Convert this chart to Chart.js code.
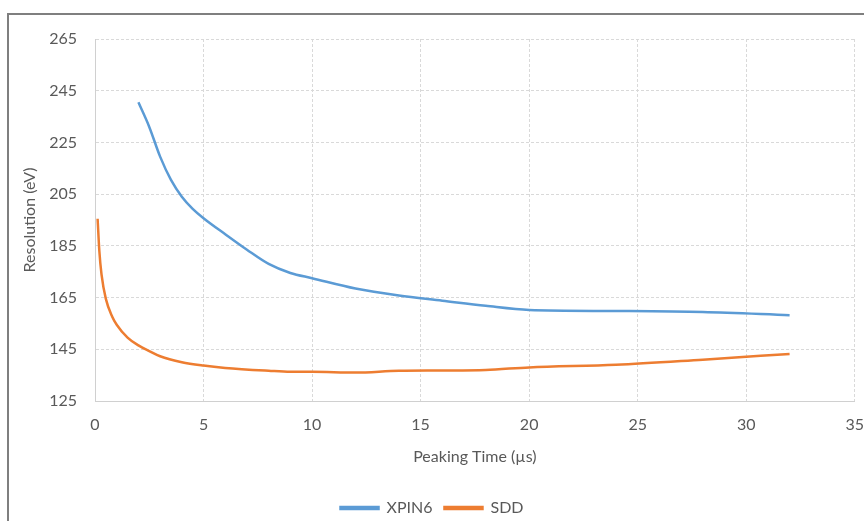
<!DOCTYPE html>
<html>
<head>
<meta charset="utf-8">
<script src="https://cdn.jsdelivr.net/npm/chart.js@4/dist/chart.umd.min.js"></script>
<style>
    html, body { margin: 0; padding: 0; background: #fff; overflow: hidden; }
    #wrap { position: relative; width: 864px; height: 526px; }
</style>
</head>
<body>
<div id="wrap"><canvas id="chart"></canvas></div>
<script>
// Peaking time (µs) and resolution (eV)
const xpinTimes = [2, 2.5, 3, 3.5, 4, 4.5, 5, 6, 7, 8, 9, 10, 12, 14, 16, 18, 20, 24, 28, 32];
const xpinRes   = [240.5, 231, 219.5, 210.5, 204, 199.3, 195.7, 189.5, 183.5, 178, 174.5, 172.5, 168.5, 165.8, 163.8, 161.8, 160.2, 159.8, 159.4, 158.2];

const sddTimes = [0.12, 0.2, 0.3, 0.5, 0.8, 1, 1.5, 2, 2.5, 3, 4, 5, 6, 8, 9, 10, 12, 14, 16, 18, 20, 24, 28, 32];
const sddRes   = [195.5, 183, 174, 164.5, 157.5, 154.5, 149.5, 146.5, 144.3, 142.3, 140, 138.7, 137.8, 136.7, 136.3, 136.3, 136, 136.7, 136.8, 137, 138, 139, 141, 143.2];

const xTicks = [0, 5, 10, 15, 20, 25, 30, 35];
const yTicks = [125, 145, 165, 185, 205, 225, 245, 265];

const textColor = '#595959';
const gridColor = '#d9d9d9';
const fontFamily = 'Lato, "Liberation Sans", sans-serif';

// frame around the whole chart
const framePlugin = {
    id: 'frame',
    beforeDraw(chart) {
        const ctx = chart.ctx;
        ctx.save();
        ctx.fillStyle = '#fff';
        ctx.fillRect(0, 0, chart.width, chart.height);
        ctx.strokeStyle = '#7f7f7f';
        ctx.lineWidth = 2;
        ctx.strokeRect(8, 14, 900, 600);
        ctx.restore();
    }
};

const toPoints = (xs, ys) => xs.map((x, i) => ({ x: x, y: ys[i] }));

new Chart(document.getElementById('chart').getContext('2d'), {
    type: 'line',
    data: {
        datasets: [
            {
                label: 'XPIN6',
                data: toPoints(xpinTimes, xpinRes),
                borderColor: '#5b9bd5',
                backgroundColor: '#5b9bd5',
                borderWidth: 2.5,
                pointRadius: 0,
                cubicInterpolationMode: 'monotone'
            },
            {
                label: 'SDD',
                data: toPoints(sddTimes, sddRes),
                borderColor: '#ed7d31',
                backgroundColor: '#ed7d31',
                borderWidth: 2.5,
                pointRadius: 0,
                cubicInterpolationMode: 'monotone'
            }
        ]
    },
    options: {
        responsive: true,
        maintainAspectRatio: false,
        animation: false,
        layout: { padding: { left: 0, right: 0, top: 39, bottom: 0 } },
        plugins: {
            legend: {
                position: 'bottom',
                labels: {
                    boxWidth: 38,
                    boxHeight: 2,
                    padding: 12,
                    color: textColor,
                    font: { family: fontFamily, size: 16 }
                }
            },
            tooltip: { enabled: false }
        },
        scales: {
            x: {
                type: 'linear',
                min: 0,
                max: 35,
                afterBuildTicks: (scale) => { scale.ticks = xTicks.map(v => ({ value: v })); },
                afterFit: (scale) => { scale.height = 87; },
                // invisible tick marks push the labels down without widening the right margin
                ticks: { color: textColor, padding: 0, font: { family: fontFamily, size: 16 } },
                grid: { color: gridColor, drawTicks: true, tickLength: 14, tickColor: 'rgba(0,0,0,0)' },
                border: { color: '#d0d0d0', width: 1, dash: [3, 2] },
                title: {
                    display: true,
                    text: 'Peaking Time (µs)',
                    color: textColor,
                    padding: { top: 0, bottom: 22 },
                    font: { family: fontFamily, size: 16 }
                }
            },
            y: {
                min: 125,
                max: 265,
                afterBuildTicks: (scale) => { scale.ticks = yTicks.map(v => ({ value: v })); },
                afterFit: (scale) => { scale.width = 95; },
                ticks: { color: textColor, padding: 18, font: { family: fontFamily, size: 16 } },
                grid: { color: gridColor, drawTicks: false },
                border: { color: '#d0d0d0', width: 1, dash: [3, 2] },
                title: {
                    display: true,
                    text: 'Resolution (eV)',
                    color: textColor,
                    padding: { top: 20, bottom: 0 },
                    font: { family: fontFamily, size: 16 }
                }
            }
        }
    },
    plugins: [framePlugin]
});
</script>
</body>
</html>
